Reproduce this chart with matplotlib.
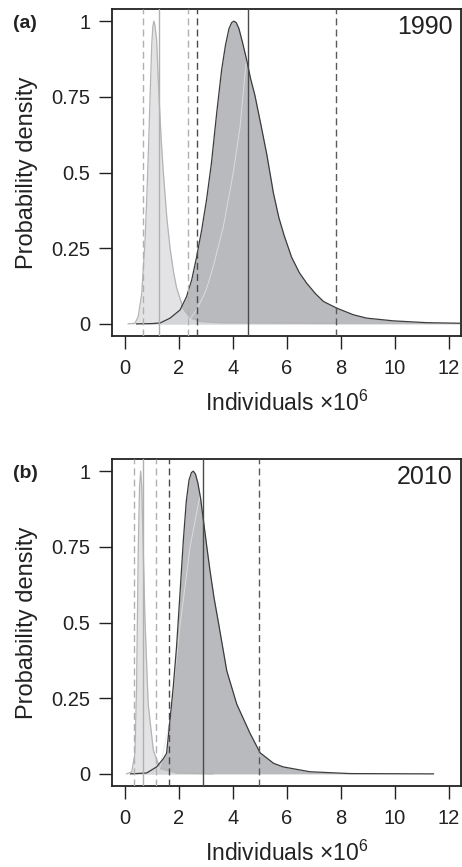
import matplotlib
matplotlib.use("Agg")
import matplotlib.pyplot as plt
import numpy as np

plt.rcParams['font.family'] = ['Liberation Sans', 'DejaVu Sans']
plt.rcParams['mathtext.fontset'] = 'custom'
plt.rcParams['mathtext.rm'] = 'Liberation Sans'
plt.rcParams['mathtext.it'] = 'Liberation Sans'

# ---- Panel (a) 1990 ----
dark_a_x = [0.43, 1.00, 1.30, 1.67, 2.04, 2.28, 2.47, 2.65, 2.84, 3.02, 3.20, 3.40, 3.58, 3.72, 3.85, 3.95, 4.03, 4.12, 4.22, 4.35, 4.51, 4.65, 4.81, 5.05, 5.25, 5.50, 5.70, 5.90, 6.17, 6.45, 6.73, 7.05, 7.35, 7.84, 8.46, 8.95, 9.94, 11.17, 12.48]
dark_a_y = [0.0, 0.001, 0.003, 0.019, 0.046, 0.09, 0.145, 0.22, 0.31, 0.41, 0.53, 0.70, 0.84, 0.92, 0.975, 0.995, 1.0, 0.995, 0.975, 0.93, 0.87, 0.81, 0.755, 0.65, 0.56, 0.43, 0.35, 0.29, 0.22, 0.17, 0.134, 0.10, 0.074, 0.052, 0.03, 0.019, 0.010, 0.004, 0.002]
light_a_x = [0.12, 0.37, 0.49, 0.62, 0.74, 0.80, 0.86, 0.93, 0.99, 1.03, 1.07, 1.11, 1.17, 1.26, 1.34, 1.42, 1.55, 1.67, 1.80, 1.91, 2.16, 2.41, 2.80, 3.50, 7.84]
light_a_y = [0.0, 0.002, 0.024, 0.10, 0.27, 0.40, 0.55, 0.75, 0.92, 0.98, 1.0, 0.985, 0.94, 0.75, 0.61, 0.50, 0.35, 0.25, 0.17, 0.12, 0.05, 0.02, 0.008, 0.004, 0.002]
faint_a_x = [2.28, 2.65, 3.00, 3.27, 3.64, 4.01, 4.26, 4.47, 4.51]
faint_a_y = [0.0, 0.046, 0.11, 0.19, 0.32, 0.50, 0.65, 0.85, 0.87]
light_lines_a = [0.68, 1.27, 2.32]   # dashed, solid, dashed
dark_lines_a = [2.66, 4.55, 7.82]    # dashed, solid, dashed

# ---- Panel (b) 2010 ----
dark_b_x = [0.21, 0.80, 1.17, 1.42, 1.54, 1.67, 1.79, 1.91, 2.04, 2.16, 2.27, 2.37, 2.46, 2.53, 2.61, 2.70, 2.80, 2.90, 3.03, 3.15, 3.30, 3.46, 3.77, 4.14, 4.63, 5.00, 5.50, 5.86, 6.85, 8.33, 11.42]
dark_b_y = [0.0, 0.003, 0.023, 0.05, 0.068, 0.18, 0.29, 0.42, 0.60, 0.77, 0.90, 0.97, 0.995, 1.0, 0.99, 0.96, 0.91, 0.84, 0.75, 0.67, 0.58, 0.50, 0.34, 0.23, 0.134, 0.07, 0.035, 0.023, 0.007, 0.001, 0.0]
light_b_x = [0.06, 0.25, 0.37, 0.43, 0.49, 0.54, 0.58, 0.62, 0.65, 0.74, 0.86, 1.05, 1.30, 1.91, 3.27]
light_b_y = [0.0, 0.007, 0.067, 0.29, 0.73, 0.95, 1.0, 0.95, 0.84, 0.51, 0.23, 0.078, 0.018, 0.003, 0.0]
faint_b_x = [1.10, 1.30, 1.67, 2.04, 2.41, 2.78]
faint_b_y = [0.0, 0.023, 0.18, 0.49, 0.75, 0.92]
light_lines_b = [0.35, 0.65, 1.14]
dark_lines_b = [1.64, 2.89, 4.96]

panels = [
    ("(a)", "1990", dark_a_x, dark_a_y, light_a_x, light_a_y, faint_a_x, faint_a_y, light_lines_a, dark_lines_a),
    ("(b)", "2010", dark_b_x, dark_b_y, light_b_x, light_b_y, faint_b_x, faint_b_y, light_lines_b, dark_lines_b),
]

xticks = [0, 2, 4, 6, 8, 10, 12]
yticks = [0, 0.25, 0.5, 0.75, 1]
ytick_labels = ["0", "0.25", "0.5", "0.75", "1"]

W, H = 462, 867
fig = plt.figure(figsize=(W / 100, H / 100), dpi=100)

axes_px = [(112, 9, 461, 336), (112, 459, 461, 786)]

dark_fill = '#b9babd'
dark_edge = '#3c3c3c'
light_fill = '#dcdde0'
light_edge = '#b4b4b4'

for (lab, year, dx, dy, lx, ly, fx, fy, llines, dlines), (l, t, r, b) in zip(panels, axes_px):
    ax = fig.add_axes([l / W, (H - b) / H, (r - l) / W, (b - t) / H])
    ax.fill_between(dx, dy, 0, color=dark_fill, lw=0, zorder=1)
    ax.fill_between(lx, ly, 0, color=light_fill, alpha=0.8, lw=0, zorder=2)
    ax.plot(lx, ly, color=light_edge, lw=0.9, zorder=3, solid_joinstyle='round')
    ax.plot(fx, fy, color='#e4e4e4', lw=0.7, alpha=0.8, zorder=3)
    ax.plot(dx, dy, color=dark_edge, lw=0.9, zorder=4, solid_joinstyle='round')
    # vertical lines
    ax.axvline(llines[0], color='#b0b0b0', lw=1.0, ls=(0, (5, 3)), zorder=5)
    ax.axvline(llines[1], color='#b0b0b0', lw=1.0, zorder=5)
    ax.axvline(llines[2], color='#b0b0b0', lw=1.0, ls=(0, (5, 3)), zorder=5)
    ax.axvline(dlines[0], color='#4a4a4a', lw=1.0, ls=(0, (5, 3)), zorder=5)
    ax.axvline(dlines[1], color='#4a4a4a', lw=1.0, zorder=5)
    ax.axvline(dlines[2], color='#5a5a5a', lw=1.0, ls=(0, (5, 3)), zorder=5)

    ax.set_xlim(-0.48, 12.44)
    ax.set_ylim(-0.04, 1.04)
    ax.set_xticks(xticks)
    ax.set_xticklabels([str(v) for v in xticks])
    ax.set_yticks(yticks)
    ax.set_yticklabels(ytick_labels)
    ax.tick_params(axis='both', direction='out', length=9.5, width=1.0,
                   labelsize=14.5, color='#222222', labelcolor='#222222')
    ax.tick_params(axis='x', pad=7)
    ax.tick_params(axis='y', pad=6)
    for s in ax.spines.values():
        s.set_linewidth(1.3)
        s.set_color('#222222')
    ax.set_ylabel("Probability density", fontsize=17, color='#222222', labelpad=10)
    ax.set_xlabel(r"Individuals $\times$10$^{6}$", fontsize=16.5, color='#222222', labelpad=9)
    ax.text(0.975, 0.982, year, transform=ax.transAxes, ha='right', va='top',
            fontsize=18, color='#222222')
    fig.text(13 / W, (H - (t + 14)) / H, lab, ha='left', va='center',
             fontsize=14, fontweight='bold', color='#222222')

fig.savefig("out.png", dpi=100)
